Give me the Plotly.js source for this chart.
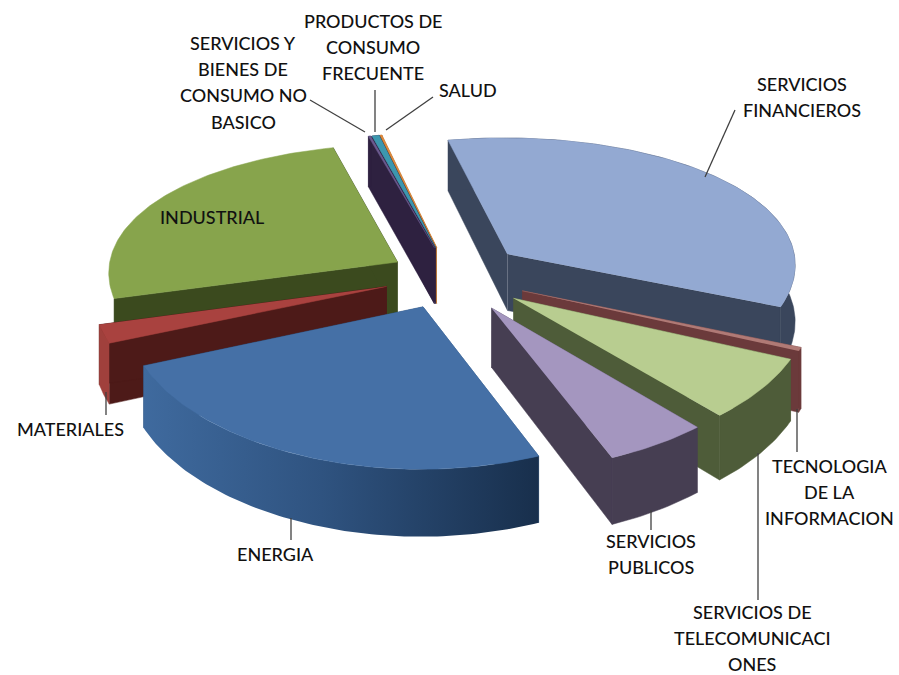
<!DOCTYPE html>
<html><head><meta charset="utf-8">
<script src="https://cdn.plot.ly/plotly-3.0.1.min.js"></script>
<style>html,body{margin:0;padding:0;background:#fff}#c{width:899px;height:675px}</style>
</head><body><div id="c"></div>
<script>
const categories=["SERVICIOS FINANCIEROS","TECNOLOGIA DE LA INFORMACION","SERVICIOS DE TELECOMUNICACIONES","SERVICIOS PUBLICOS","ENERGIA","MATERIALES","INDUSTRIAL","SERVICIOS Y BIENES DE CONSUMO NO BASICO","PRODUCTOS DE CONSUMO FRECUENTE","SALUD"];
const values=[34.7,0.4,6.9,5.25,24.65,2.1,25.3,0.15,0.45,0.1];
const pull=[0.26,0.27,0.27,0.27,0.24,0.23,0.21,0.22,0.22,0.22];
const topColors=["#93A9D2","#B07A76","#B8CD90","#A496BF","#4570A6","#A9423F","#87A44C","#6B5A8F","#3C97AF","#E08A3C"];
const wallColors=["#3A465C","#6B3A3B","#4E5C39","#463E52","#2F5580","#4D1A18","#3B4A1E","#2E2140","#2E2140","#B5702F"];
const arcColors=["#3A465C","#6B3A3B","#4E5C39","#463E52","#2F5580","#A0403C",null,"#2E2140","#2E2140","#B5702F"];
const drawOrder=[6,9,8,7,0,1,2,3,5,4];
const startAngle=-12;
const labelLines=[["SERVICIOS","FINANCIEROS"],["TECNOLOGIA","DE LA","INFORMACION"],["SERVICIOS DE","TELECOMUNICACI","ONES"],["SERVICIOS","PUBLICOS"],["ENERGIA"],["MATERIALES"],["INDUSTRIAL"],["SERVICIOS Y","BIENES DE","CONSUMO NO","BASICO"],["PRODUCTOS DE","CONSUMO","FRECUENTE"],["SALUD"]];
const labelX=[802,829,752,651,275,70,212,243,373,468];
const labelY=[84,466,612,541,554,429,217,43,21,90];
const leaders=[[735,110,705,177],[797,409,797,452],[758,453,758,600],[651,510,651,530],[291,518,291,540],[106,392,106,415],[365,132,310,100],[375,132,375,90],[386,130,433,97]];

const cx=450,cy=276,rx=290,ry=135,perspX=0.07,perspY=0.12,depth=57.5,rad=Math.PI/180;
const total=values.reduce((a,b)=>a+b,0);
let acc=startAngle;
const spans=values.map(v=>{const a=acc;acc+=v/total*360;return [a,acc];});
function proj(i,th,withRim,z){
  const m=(spans[i][0]+spans[i][1])/2*rad,t=th*rad;
  const U=pull[i]*Math.sin(m)+(withRim?Math.sin(t):0);
  const V=pull[i]*Math.cos(m)+(withRim?Math.cos(t):0);
  const w=1+perspY*V;
  return [cx+rx*U/(1+perspX*V),cy-ry*V/w+depth*z/w];
}
function poly(pts,color,extra){
  return Object.assign({type:"scatter",mode:"lines",x:pts.map(p=>p[0]),y:pts.map(p=>p[1]),fill:"toself",fillcolor:color,line:{color:color,width:0.5},hoverinfo:"skip",showlegend:false},extra||{});
}
function arc(i,z,rev){
  const [a,b]=spans[i],n=Math.max(2,Math.ceil(b-a)),p=[];
  for(let k=0;k<=n;k++)p.push(proj(i,a+(b-a)*k/n,true,z));
  return rev?p.reverse():p;
}
const traces=[];
drawOrder.forEach(i=>{
  const [a,b]=spans[i];
  const wall=th=>[proj(i,th,false,0),proj(i,th,true,0),proj(i,th,true,1),proj(i,th,false,1)];
  traces.push(poly(wall(a),wallColors[i]));
  traces.push(poly(wall(b),wallColors[i]));
  if(arcColors[i]){
    const arcPts=arc(i,0,false).concat(arc(i,1,true));
    const extra=i===4?{fillgradient:{type:"horizontal",colorscale:[[0,"#3F6A9E"],[0.45,"#2F5380"],[1,"#182F4C"]]},line:{width:0,color:"#2F5380"}}:null;
    traces.push(poly(arcPts,arcColors[i],extra));
  }
  traces.push(poly([proj(i,a,false,0)].concat(arc(i,0,false)),topColors[i]));
});
leaders.forEach(l=>traces.push({type:"scatter",mode:"lines",x:[l[0],l[2]],y:[l[1],l[3]],line:{color:"#404040",width:1.3},hoverinfo:"skip",showlegend:false}));
const annotations=[];
labelLines.forEach((ls,i)=>ls.forEach((t,k)=>annotations.push({x:labelX[i],y:labelY[i]+k*26.2,xref:"x",yref:"y",text:t,showarrow:false,xanchor:"center",yanchor:"middle",font:{family:"Lato, sans-serif",size:18,color:"#111",weight:500}})));
Plotly.newPlot("c",traces,{width:899,height:675,margin:{l:0,r:0,t:0,b:0},paper_bgcolor:"#fff",plot_bgcolor:"#fff",showlegend:false,
 xaxis:{range:[0,899],visible:false,fixedrange:true},yaxis:{range:[675,0],visible:false,fixedrange:true},annotations:annotations},{displayModeBar:false,staticPlot:true});
</script></body></html>
